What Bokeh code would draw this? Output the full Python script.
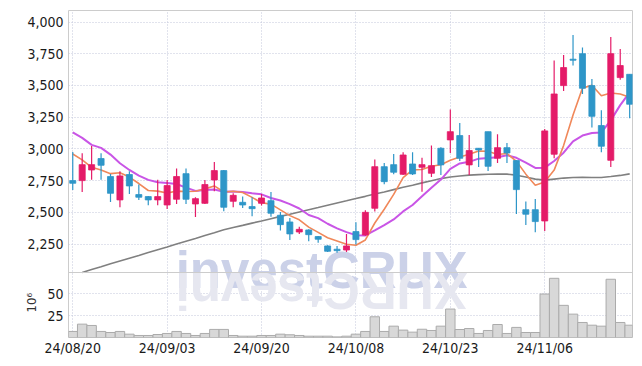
import math
from bokeh.plotting import figure
from bokeh.models import (Range1d, FixedTicker, NumeralTickFormatter, ColumnDataSource,
                          Span, Label, Title)
from bokeh.embed import file_html
from bokeh.resources import INLINE

# ---------------- data ----------------
dates = ["24/08/20", "24/08/21", "24/08/22", "24/08/23", "24/08/26", "24/08/27", "24/08/28", "24/08/29",
         "24/08/30", "24/09/02", "24/09/03", "24/09/04", "24/09/05", "24/09/06", "24/09/09", "24/09/10",
         "24/09/11", "24/09/12", "24/09/13", "24/09/19", "24/09/20", "24/09/23", "24/09/24", "24/09/25",
         "24/09/26", "24/09/27", "24/09/30", "24/10/02", "24/10/04", "24/10/07", "24/10/08", "24/10/10",
         "24/10/11", "24/10/14", "24/10/15", "24/10/16", "24/10/17", "24/10/18", "24/10/21", "24/10/22",
         "24/10/23", "24/10/24", "24/10/25", "24/10/28", "24/10/29", "24/10/30", "24/10/31", "24/11/01",
         "24/11/04", "24/11/05", "24/11/06", "24/11/07", "24/11/08", "24/11/11", "24/11/12", "24/11/13",
         "24/11/14", "24/11/15", "24/11/18", "24/11/19"]

opens = [2750, 2750, 2834, 2924, 2782, 2598, 2798, 2640, 2624, 2598,
         2558, 2603, 2805, 2566, 2571, 2755, 2829, 2587, 2579, 2545,
         2571, 2592, 2477, 2424, 2345, 2361, 2309, 2235, 2209, 2203,
         2348, 2322, 2532, 2860, 2876, 2800, 2881, 2855, 2808, 3005,
         3071, 3105, 2874, 3005, 3136, 2926, 3010, 2908, 2521, 2521,
         2432, 2958, 3499, 3707, 3751, 3499, 3184, 2910, 3562, 3588]
highs = [2975, 2966, 3022, 2966, 2803, 2824, 2824, 2719, 2629, 2756,
         2755, 2845, 2845, 2618, 2755, 2897, 2834, 2650, 2624, 2618,
         2645, 2661, 2503, 2456, 2387, 2366, 2314, 2240, 2235, 2330,
         2422, 2516, 2916, 2889, 2960, 2973, 2973, 2931, 3026, 3013,
         3310, 3205, 3110, 3008, 3136, 3115, 3047, 2908, 2585, 2606,
         3157, 3696, 3741, 3898, 3799, 3552, 3305, 3883, 3788, 3588]
lows = [2677, 2661, 2756, 2756, 2582, 2540, 2645, 2598, 2556, 2556,
        2527, 2566, 2566, 2463, 2566, 2666, 2508, 2540, 2535, 2470,
        2553, 2466, 2356, 2282, 2330, 2272, 2261, 2188, 2182, 2188,
        2246, 2316, 2506, 2721, 2800, 2795, 2795, 2663, 2779, 2795,
        2968, 2905, 2795, 2858, 2826, 2889, 2889, 2487, 2401, 2343,
        2353, 2926, 3457, 3657, 3433, 3168, 2973, 2858, 3546, 3241]
closes = [2729, 2876, 2876, 2871, 2650, 2787, 2708, 2619, 2598, 2624,
          2711, 2782, 2603, 2608, 2719, 2829, 2540, 2634, 2558, 2529,
          2613, 2493, 2403, 2330, 2366, 2324, 2288, 2193, 2198, 2235,
          2285, 2500, 2860, 2742, 2816, 2952, 2803, 2876, 2868, 2874,
          3136, 2926, 2987, 2992, 2863, 3010, 2968, 2679, 2485, 2427,
          3142, 3433, 3641, 3699, 3478, 3257, 3021, 3751, 3657, 3352]
volumes = [6.9, 15.2, 13.7, 6.9, 5.7, 6.9, 3.8, 2.3, 2.3, 3.4,
           4.6, 6.9, 4.6, 2.3, 4.6, 9.2, 9.2, 2.3, 1.5, 1.5,
           2.3, 2.3, 3.8, 3.1, 2.3, 1.5, 1.5, 1.5, 0.7, 1.5,
           3.8, 6.9, 23.6, 6.9, 12.9, 8.4, 6.1, 9.4, 8.0, 12.9,
           32.4, 9.1, 10.2, 4.6, 8.0, 14.8, 4.6, 11.5, 5.7, 5.7,
           49.5, 67.4, 36.6, 26.6, 17.1, 14.0, 12.9, 66.3, 17.1, 14.0]
ma5 = [2960, 2913, 2855, 2834, 2805, 2812, 2778, 2727, 2672, 2667,
       2652, 2667, 2664, 2666, 2685, 2708, 2660, 2666, 2656, 2618,
       2575, 2565, 2519, 2474, 2441, 2383, 2342, 2300, 2274, 2248,
       2240, 2282, 2416, 2524, 2641, 2774, 2835, 2838, 2863, 2875,
       2911, 2936, 2958, 2983, 2981, 2956, 2964, 2902, 2801, 2714,
       2740, 2833, 3026, 3268, 3479, 3502, 3419, 3441, 3433, 3408]
ma10 = [3131, 3087, 3032, 3008, 2955, 2887, 2834, 2790, 2756, 2737,
        2732, 2723, 2695, 2669, 2676, 2680, 2663, 2665, 2661, 2651,
        2642, 2613, 2593, 2565, 2530, 2479, 2454, 2410, 2374, 2344,
        2320, 2318, 2358, 2399, 2444, 2507, 2558, 2627, 2694, 2758,
        2843, 2885, 2898, 2923, 2928, 2934, 2950, 2930, 2892, 2850,
        2852, 2905, 2970, 3060, 3105, 3125, 3130, 3225, 3345, 3445]
ma_long = [float("nan"), 2026, 2049, 2071, 2094, 2116, 2138, 2160, 2183, 2205,
           2227, 2250, 2272, 2294, 2317, 2339, 2362, 2380, 2397, 2415,
           2432, 2450, 2468, 2485, 2503, 2521, 2538, 2556, 2574, 2591,
           2609, 2626, 2644, 2661, 2679, 2697, 2714, 2732, 2749, 2766,
           2778, 2787, 2793, 2797, 2800, 2802, 2801, 2793, 2778, 2762,
           2754, 2762, 2770, 2774, 2776, 2775, 2774, 2782, 2791, 2803]
price_ticks = [2250, 2500, 2750, 3000, 3250, 3500, 3750, 4000]
volume_ticks = [25, 50]
date_tick_idx = [0, 10, 20, 30, 40, 50]
watermark = "investCRUX"
volume_unit = "10⁶"

# ---------------- layout / styles ----------------
UP = "#e41b68"
DOWN = "#2e96c8"
FONT = "DejaVu Sans Condensed"
GRID = "#c3c6da"

W, H = 641, 365
BL, BR, BT, BB = 68, 9, 10, 28
frame_h = H - BT - BB          # whole frame (price + volume panels)
vol_h = 65                     # volume panel height in px
price_h = frame_h - vol_h

PRICE_TOP, PRICE_SEP = 4091.0, 2025.7   # price at frame top / at panel separator
VOL_SEP = 74.0                           # volume at panel separator
price_bottom = PRICE_SEP - (PRICE_TOP - PRICE_SEP) * vol_h / price_h
vol_top = VOL_SEP * frame_h / vol_h


def vol_to_price(v):
    return round(price_bottom + v / vol_top * (PRICE_TOP - price_bottom), 3)


idx = list(range(len(dates)))
colors = [UP if c >= o else DOWN for o, c in zip(opens, closes)]
src = ColumnDataSource(dict(
    x=idx, high=highs, low=lows,
    top=[max(o, c) for o, c in zip(opens, closes)],
    bottom=[min(o, c) for o, c in zip(opens, closes)],
    color=colors, vol=volumes, ma5=ma5, ma10=ma10, mal=ma_long,
))

p = figure(width=W, height=H, x_range=Range1d(-0.45, 59.3),
           y_range=Range1d(price_bottom, PRICE_TOP),
           output_backend="svg", toolbar_location=None,
           min_border_left=BL, min_border_right=BR, min_border_top=BT, min_border_bottom=BB)
p.extra_y_ranges = {"vol": Range1d(0, vol_top)}

p.outline_line_color = "#cccccc"
p.background_fill_color = "white"
p.border_fill_color = "white"
p.grid.grid_line_color = GRID
p.grid.grid_line_dash = "1 2"
p.grid.grid_line_width = 1

vol_tick_pos = [vol_to_price(v) for v in volume_ticks]
yt = FixedTicker(ticks=vol_tick_pos + price_ticks)
p.yaxis.ticker = yt
p.ygrid.ticker = yt
p.yaxis.formatter = NumeralTickFormatter(format="0,0")
p.yaxis.major_label_overrides = {pos: str(v) for pos, v in zip(vol_tick_pos, volume_ticks)}
p.xgrid.ticker = FixedTicker(ticks=date_tick_idx)
p.xaxis.ticker = FixedTicker(ticks=date_tick_idx)
p.xaxis.major_label_overrides = {i: dates[i] for i in date_tick_idx}

for ax in (p.xaxis[0], p.yaxis[0]):
    ax.axis_line_color = None
    ax.major_tick_line_color = None
    ax.minor_tick_line_color = None
    ax.major_tick_out = 0
    ax.major_tick_in = 0
    ax.minor_tick_out = 0
    ax.major_label_text_font = FONT
    ax.major_label_text_font_size = "14px"
    ax.major_label_text_color = "#1a1a1a"
    ax.major_label_standoff = 5
p.xaxis.major_label_standoff = 2

# panel separator
p.add_layout(Span(location=VOL_SEP, dimension="width", y_range_name="vol",
                  line_color="#cccccc", line_width=1))

# volume unit label (left side, near the volume panel)
p.add_layout(Title(text=volume_unit, align="left", offset=25, standoff=-28,
                   vertical_align="bottom", text_font=FONT, text_font_size="13px",
                   text_font_style="normal", text_color="#333333"), "left")

# watermark and its reflection
p.add_layout(Label(x=10.9, y=2041.5, text=watermark, text_font="Liberation Sans",
                   text_font_style="bold", text_font_size="51px", text_color="#cbd1e8",
                   text_align="left", text_baseline="alphabetic", level="underlay"))
p.add_layout(Label(x=10.9, y=1880.0, text=watermark[::-1], text_font="Liberation Sans",
                   text_font_style="bold", text_font_size="51px", text_color="#e6e7f0",
                   text_align="right", text_baseline="alphabetic", angle=math.pi,
                   level="underlay"))

# volume
p.vbar(x="x", width=1.0, top="vol", bottom=0, source=src, y_range_name="vol",
       fill_color="#d8d8d8", line_color="#ababab", line_width=1)

# moving averages
p.line("x", "mal", source=src, line_color="#808080", line_width=1.6)
p.line("x", "ma10", source=src, line_color="#c955e6", line_width=2)
p.line("x", "ma5", source=src, line_color="#f0885a", line_width=1.6)

# candles
p.segment(x0="x", y0="high", x1="x", y1="low", source=src, line_color="color", line_width=1.2)
p.vbar(x="x", width=0.64, top="top", bottom="bottom", source=src,
       fill_color="color", line_color="color", line_width=0.8)

open("out.html", "w").write(file_html(p, INLINE))
